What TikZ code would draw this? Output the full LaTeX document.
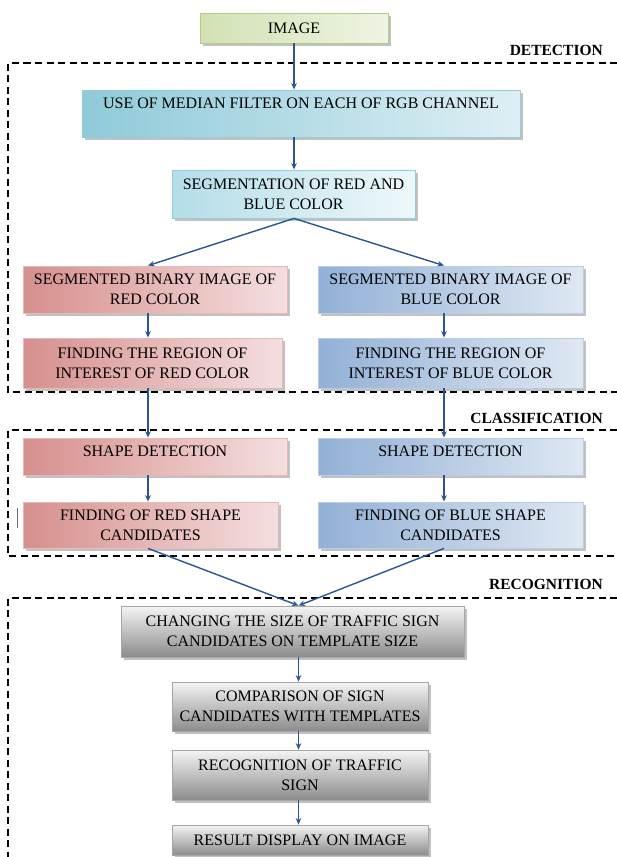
\documentclass[tikz,border=0pt]{standalone}
\usepackage{fontspec}
\setmainfont{Liberation Serif}
\usetikzlibrary{shadows,arrows.meta,calc}
\definecolor{arrowblue}{HTML}{2A5591}
\definecolor{grnA}{HTML}{D2E1B4}
\definecolor{grnB}{HTML}{EEF4E3}
\definecolor{grnD}{HTML}{B3CC82}
\definecolor{tealA}{HTML}{8FCAD9}
\definecolor{tealB}{HTML}{DDEFF4}
\definecolor{tealD}{HTML}{93CDDD}
\definecolor{cyA}{HTML}{B4DDE8}
\definecolor{cyB}{HTML}{EEF8FA}
\definecolor{redA}{HTML}{D68F8D}
\definecolor{redB}{HTML}{F4DFDE}
\definecolor{redD}{HTML}{E6B9B8}
\definecolor{bluA}{HTML}{92B0D6}
\definecolor{bluB}{HTML}{DFE8F3}
\definecolor{bluD}{HTML}{B9CDE5}
\definecolor{gryA}{HTML}{F4F4F4}
\definecolor{gryB}{HTML}{8C8C8C}
\definecolor{gryD}{HTML}{A6A6A6}
\tikzset{
  box/.style={rectangle, inner sep=0pt, align=center, font=\fontsize{16}{20}\selectfont,
    line width=0.8pt, drop shadow={shadow xshift=2.5pt, shadow yshift=-2.5pt, fill=black!35, opacity=0.7}},
  grnbox/.style={box, draw=grnD, shading angle=60, left color=grnA, right color=grnB},
  tealbox/.style={box, draw=tealD, shading angle=80, left color=tealA, right color=tealB},
  cybox/.style={box, draw=tealD, shading angle=80, left color=cyA, right color=cyB},
  redbox/.style={box, draw=redD, shading angle=75, left color=redA, right color=redB},
  blubox/.style={box, draw=bluD, shading angle=75, left color=bluA, right color=bluB},
  grybox/.style={box, draw=gryD, top color=gryA, bottom color=gryB},
  conn/.style={draw=arrowblue, line width=1.4pt, -{Stealth[length=6.5pt,width=5.5pt]}},
  frame/.style={draw=black, line width=1.3pt, dash pattern=on 7pt off 4.5pt},
  seclabel/.style={anchor=east, inner sep=0pt, font=\fontsize{15.5}{17}\selectfont\bfseries},
}
\begin{document}
\begin{tikzpicture}[x=1pt,y=-1pt]
\useasboundingbox (0,0) rectangle (617,857);
% frames
\draw[frame] (617,63) -- (8,63) -- (8,392) -- (617,392);
\draw[frame] (617,430) -- (8,430) -- (8,556) -- (617,556);
\draw[frame] (617,598) -- (8,598) -- (8,857);
\node[seclabel] (ldet) at (603,50) {DETECTION};
\node[seclabel] (lcls) at (603,418) {CLASSIFICATION};
\node[seclabel] (lrec) at (603,584) {RECOGNITION};
\draw[black!60, line width=0.8pt] (17,508) -- (17,528);
% column coordinates
\coordinate (mc) at (294,0);
\coordinate (rc) at (148,0);
\coordinate (bc) at (444,0);
% boxes
\node[grnbox, minimum width=188pt, minimum height=30pt] (img) at (294,28) {IMAGE};
\node[tealbox, minimum width=438pt, minimum height=47pt] (med) at (301,113.5) {USE OF MEDIAN FILTER ON EACH OF RGB CHANNEL\\\mbox{}};
\node[cybox, minimum width=243pt, minimum height=48pt] (seg) at (293.5,194) {SEGMENTATION OF RED AND\\BLUE COLOR};
\node[redbox, minimum width=264pt, minimum height=47pt] (r1) at (155,289.5) {SEGMENTED BINARY IMAGE OF\\RED COLOR};
\node[blubox, minimum width=265pt, minimum height=47pt] (b1) at (450.5,289.5) {SEGMENTED BINARY IMAGE OF\\BLUE COLOR};
\node[redbox, minimum width=259pt, minimum height=50pt] (r2) at (152.5,363) {FINDING THE REGION OF\\INTEREST OF RED COLOR};
\node[blubox, minimum width=265pt, minimum height=50pt] (b2) at (450.5,363) {FINDING THE REGION OF\\INTEREST OF BLUE COLOR};
\node[redbox, minimum width=264pt, minimum height=37pt] (r3) at (155,456.5) {SHAPE DETECTION\\[-9pt]\mbox{}};
\node[blubox, minimum width=265pt, minimum height=37pt] (b3) at (450.5,456.5) {SHAPE DETECTION\\[-9pt]\mbox{}};
\node[redbox, minimum width=255pt, minimum height=46pt] (r4) at (150.5,525) {FINDING OF RED SHAPE\\CANDIDATES};
\node[blubox, minimum width=265pt, minimum height=46pt] (b4) at (450.5,525) {FINDING OF BLUE SHAPE\\CANDIDATES};
\node[grybox, minimum width=343pt, minimum height=51pt] (chg) at (292.5,631.5) {CHANGING THE SIZE OF TRAFFIC SIGN\\CANDIDATES ON TEMPLATE SIZE};
\node[grybox, minimum width=256pt, minimum height=49pt] (cmp) at (300,706.5) {COMPARISON OF SIGN\\CANDIDATES WITH TEMPLATES};
\node[grybox, minimum width=256pt, minimum height=50pt] (rts) at (300,775) {RECOGNITION OF TRAFFIC\\SIGN};
\node[grybox, minimum width=256pt, minimum height=30pt] (res) at (300,840) {RESULT DISPLAY ON IMAGE};
% connectors
\draw[conn] (img.south -| mc) -- (med.north -| mc);
\draw[conn] (med.south -| mc) -- (seg.north -| mc);
\draw[conn] (seg.south -| mc) -- (r1.north -| rc);
\draw[conn] (seg.south -| mc) -- (b1.north -| bc);
\draw[conn] (r1.south -| rc) -- (r2.north -| rc);
\draw[conn] (b1.south -| bc) -- (b2.north -| bc);
\draw[conn] (r2.south -| rc) -- (r3.north -| rc);
\draw[conn] (b2.south -| bc) -- (b3.north -| bc);
\draw[conn] (r3.south -| rc) -- (r4.north -| rc);
\draw[conn] (b3.south -| bc) -- (b4.north -| bc);
\coordinate (cin) at ($(chg.north)+(6,0)$);
\draw[conn] (r4.south -| rc) -- (cin);
\draw[conn] (b4.south -| bc) -- (cin);
\draw[conn] (chg.south -| cin) -- (cmp.north -| cin);
\draw[conn] (cmp.south -| cin) -- (rts.north -| cin);
\draw[conn] (rts.south -| cin) -- (res.north -| cin);
\end{tikzpicture}
\end{document}
